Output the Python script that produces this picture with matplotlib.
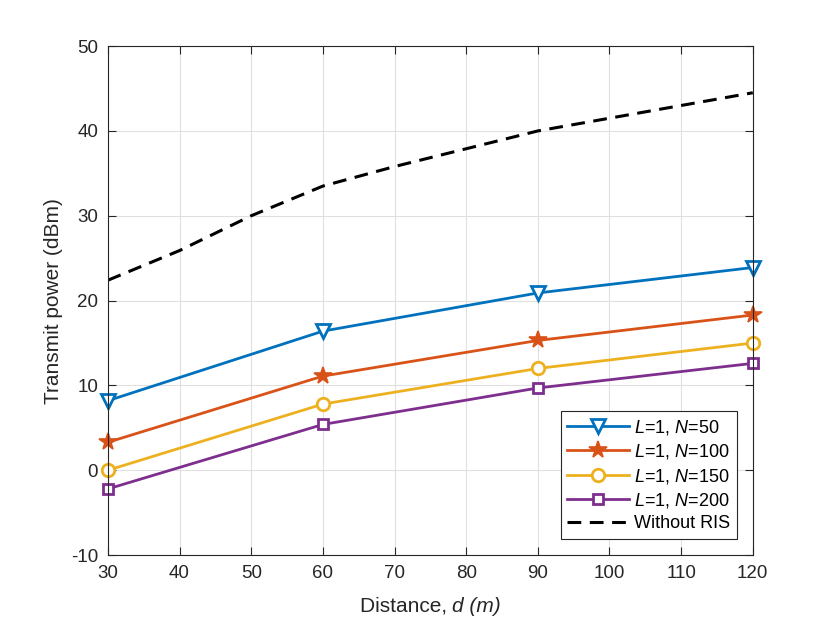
import matplotlib
matplotlib.use("Agg")
import matplotlib.pyplot as plt

plt.rcParams['font.family'] = ['Liberation Sans', 'DejaVu Sans']
plt.rcParams['mathtext.fontset'] = 'custom'
plt.rcParams['mathtext.rm'] = 'Liberation Sans'
plt.rcParams['mathtext.it'] = 'Liberation Sans:italic'
plt.rcParams['axes.unicode_minus'] = False

distance = [30, 60, 90, 120]
p_n50 = [8.2, 16.4, 20.9, 23.9]
p_n100 = [3.3, 11.1, 15.3, 18.3]
p_n150 = [0.0, 7.8, 12.0, 15.0]
p_n200 = [-2.2, 5.4, 9.7, 12.6]

distance_noris = [30, 40, 50, 60, 70, 80, 90, 100, 110, 120]
p_noris = [22.4, 25.9, 30.0, 33.5, 35.8, 37.9, 40.0, 41.5, 43.0, 44.5]

labels = ['$L$=1, $N$=50', '$L$=1, $N$=100', '$L$=1, $N$=150', '$L$=1, $N$=200', 'Without RIS']
xticks = list(range(30, 121, 10))
yticks = list(range(-10, 51, 10))

c_blue = (0, 0.447, 0.741)
c_red = (0.85, 0.325, 0.098)
c_yel = (0.929, 0.694, 0.125)
c_pur = (0.494, 0.184, 0.556)
txt = (0.15, 0.15, 0.15)

fig = plt.figure(figsize=(8.3, 6.23), dpi=100)
ax = fig.add_axes([0.130, 0.109, 0.777, 0.817])

lw = 2.0
ax.plot(distance, p_n50, color=c_blue, lw=lw, marker='v', ms=10, mfc='white', mew=2, label=labels[0], clip_on=False)
ax.plot(distance, p_n100, color=c_red, lw=lw, marker='*', ms=13, mfc=c_red, mew=1.2, label=labels[1], clip_on=False)
ax.plot(distance, p_n150, color=c_yel, lw=lw, marker='o', ms=9, mfc='white', mew=2, label=labels[2], clip_on=False)
ax.plot(distance, p_n200, color=c_pur, lw=lw, marker='s', ms=7.5, mfc='white', mew=2, label=labels[3], clip_on=False)
ax.plot(distance_noris, p_noris, color='black', lw=2.2, ls=(0, (4.5, 2.8)), label=labels[4])

ax.set_xlim(30, 120)
ax.set_ylim(-10, 50)
ax.set_xticks(xticks)
ax.set_yticks(yticks)
ax.grid(True, color=(0.88, 0.88, 0.88), lw=0.8)
ax.set_axisbelow(True)
ax.tick_params(direction='in', top=True, right=True, labelsize=13.5, colors=txt,
               length=6, width=0.8, pad=7)
for s in ax.spines.values():
    s.set_color(txt)
    s.set_linewidth(0.8)

ax.set_ylabel('Transmit power (dBm)', fontsize=15, color=txt, labelpad=6)

# x label composed of an upright part and an italic part, centred together
ybase = 1 - 612 / 623.0
t1 = fig.text(0.5, ybase, 'Distance, ', fontsize=15, color=txt, ha='left', va='baseline')
t2 = fig.text(0.5, ybase, 'd (m)', fontsize=15, color=txt, ha='left', va='baseline', style='italic')
fig.canvas.draw()
r = fig.canvas.get_renderer()
w1 = t1.get_window_extent(r).width
w2 = t2.get_window_extent(r).width
cx = (0.130 + 0.777 / 2) * 830
x0 = cx - (w1 + w2) / 2
t1.set_x(x0 / 830)
t2.set_x((x0 + w1) / 830)

leg = ax.legend(loc='lower right', bbox_to_anchor=(0.975, 0.032), fontsize=13,
                frameon=True, fancybox=False, edgecolor=txt, framealpha=1,
                handlelength=3.4, borderpad=0.35, labelspacing=0.3, handletextpad=0.3,
                borderaxespad=0)
leg.get_frame().set_linewidth(0.8)
for t in leg.get_texts():
    t.set_color('black')

fig.savefig('out.png', dpi=100)
